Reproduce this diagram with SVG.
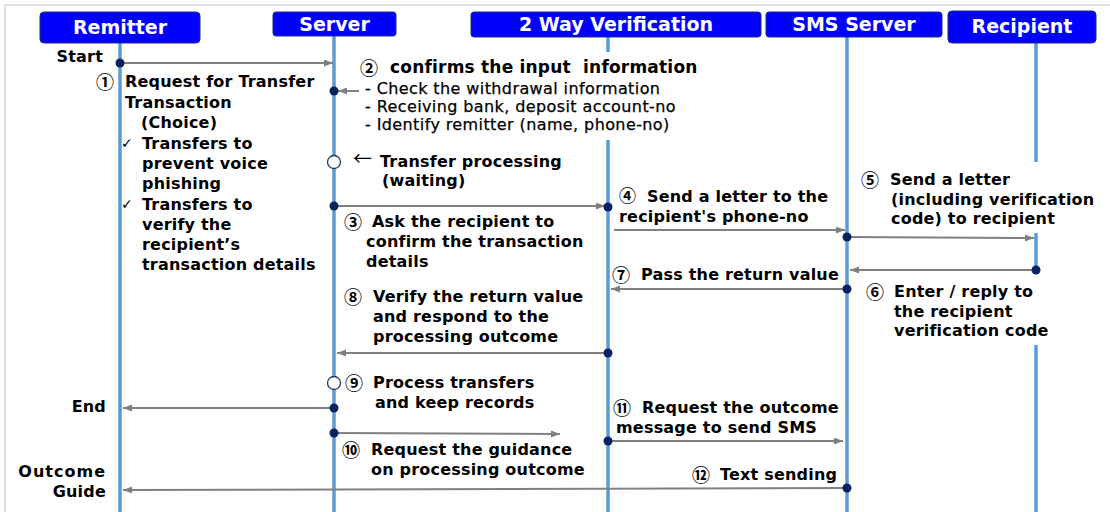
<svg xmlns="http://www.w3.org/2000/svg" width="1110" height="512" viewBox="0 0 1110 512">
<style>
.frame{stroke:#d6d6d6;stroke-width:1.5;fill:none}
.box{fill:#0000ff;stroke:#1c2a7a;stroke-width:1}
.hd{font-family:"DejaVu Sans",sans-serif;font-weight:bold;font-size:19px;fill:#fff;text-anchor:middle}
.life{stroke:#5b9bd5;stroke-width:3.5;fill:none}
.t{font-family:"DejaVu Sans","Noto Sans CJK KR",sans-serif;font-weight:bold;font-size:16px;fill:#000;letter-spacing:0.2px}
.r{font-weight:normal;letter-spacing:0.4px;stroke:#000;stroke-width:0.25}
.e{text-anchor:end}
.n{font-family:"Noto Sans CJK KR",sans-serif;font-size:18px;font-weight:bold;fill:#000}
.ck{font-family:"DejaVu Sans",sans-serif;font-size:14px;fill:#000}
.arr{stroke:#808080;stroke-width:2;fill:none;marker-end:url(#ah)}
.dot{fill:#0b2260}
.oc{fill:#fff;stroke:#1f3864;stroke-width:1.3}
</style>
<defs>
<marker id="ah" markerWidth="10" markerHeight="8" refX="9" refY="3.5" orient="auto" markerUnits="userSpaceOnUse">
<path d="M0,0 L9,3.5 L0,7 z" fill="#808080"/>
</marker>
</defs>
<rect width="1110" height="512" fill="#fff"/>
<path class="frame" d="M5,512 V5 H1110"/>

<g id="node-remitter">
<line class="life" x1="120" y1="43" x2="120" y2="512"/>
<rect class="box" x="40" y="12" width="160" height="31" rx="4"/>
<text class="hd" x="120" y="34">Remitter</text>
</g>
<g id="node-server">
<line class="life" x1="334" y1="36" x2="334" y2="512"/>
<rect class="box" x="273" y="12" width="123" height="24" rx="3"/>
<text class="hd" x="334.5" y="31">Server</text>
</g>
<g id="node-2way">
<line class="life" x1="608" y1="37" x2="608" y2="52"/>
<line class="life" x1="608" y1="140" x2="608" y2="512"/>
<rect class="box" x="471" y="12" width="290" height="25" rx="3"/>
<text class="hd" x="616" y="31">2 Way Verification</text>
</g>
<g id="node-sms">
<line class="life" x1="847" y1="37" x2="847" y2="512"/>
<rect class="box" x="766" y="12" width="176" height="25" rx="3"/>
<text class="hd" x="854" y="31">SMS Server</text>
</g>
<g id="node-recipient">
<line class="life" x1="1036" y1="43" x2="1036" y2="162"/>
<line class="life" x1="1036" y1="233" x2="1036" y2="272"/>
<line class="life" x1="1036" y1="345" x2="1036" y2="512"/>
<rect class="box" x="948" y="11" width="148" height="32" rx="4"/>
<text class="hd" x="1022" y="33">Recipient</text>
</g>

<g id="connectors">
<line class="arr" x1="120" y1="63" x2="333" y2="63"/>
<line class="arr" x1="359" y1="91" x2="338" y2="91"/>
<line class="arr" x1="334" y1="206" x2="605" y2="206"/>
<line class="arr" x1="614" y1="230" x2="845" y2="230"/>
<line class="arr" x1="847" y1="237" x2="1034" y2="238"/>
<line class="arr" x1="1036" y1="270" x2="850" y2="270"/>
<line class="arr" x1="847" y1="289" x2="611" y2="289"/>
<line class="arr" x1="608" y1="353" x2="337" y2="353"/>
<line class="arr" x1="334" y1="408" x2="123" y2="408"/>
<line class="arr" x1="334" y1="433" x2="560" y2="434"/>
<line class="arr" x1="608" y1="441" x2="843" y2="441"/>
<line class="arr" x1="847" y1="488" x2="123" y2="490"/>
<circle class="dot" cx="120" cy="63" r="4.5"/>
<circle class="dot" cx="334" cy="91" r="4.5"/>
<circle class="oc" cx="334" cy="162" r="6.5"/>
<circle class="dot" cx="334" cy="206" r="4.5"/>
<circle class="dot" cx="608" cy="207" r="4.5"/>
<circle class="dot" cx="847" cy="237" r="4.5"/>
<circle class="dot" cx="1036" cy="270" r="4.5"/>
<circle class="dot" cx="847" cy="289" r="4.5"/>
<circle class="dot" cx="608" cy="353" r="4.5"/>
<circle class="oc" cx="334" cy="383" r="6.5"/>
<circle class="dot" cx="334" cy="408" r="4.5"/>
<circle class="dot" cx="334" cy="433" r="4.5"/>
<circle class="dot" cx="608" cy="441" r="4.5"/>
<circle class="dot" cx="847" cy="488" r="4.5"/>
</g>

<g id="label-start"><text class="t e" x="103" y="62">Start</text></g>
<g id="label-1">
<text class="n" x="96" y="89">①</text>
<text class="t" x="125" y="87">Request for Transfer</text>
<text class="t" x="125" y="108">Transaction</text>
<text class="t" x="141" y="128">(Choice)</text>
<text class="ck" x="121" y="148">✓</text>
<text class="t" x="142" y="149">Transfers to</text>
<text class="t" x="142" y="169">prevent voice</text>
<text class="t" x="142" y="189">phishing</text>
<text class="ck" x="121" y="209">✓</text>
<text class="t" x="142" y="210">Transfers to</text>
<text class="t" x="142" y="230">verify the</text>
<text class="t" x="142" y="250">recipient’s</text>
<text class="t" x="142" y="270">transaction details</text>
</g>
<g id="label-2">
<text class="n" x="360" y="75">②</text>
<text class="t" x="390" y="73" style="font-size:17px" xml:space="preserve">confirms the input  information</text>
<text class="t r" x="365" y="94">- Check the withdrawal information</text>
<text class="t r" x="365" y="112">- Receiving bank, deposit account-no</text>
<text class="t r" x="365" y="130">- Identify remitter (name, phone-no)</text>
</g>
<g id="label-processing">
<text class="n" x="353" y="166" style="font-size:19px;font-weight:normal">←</text>
<text class="t" x="380" y="167">Transfer processing</text>
<text class="t" x="382" y="186">(waiting)</text>
</g>
<g id="label-3">
<text class="n" x="344" y="229">③</text>
<text class="t" x="372" y="227">Ask the recipient to</text>
<text class="t" x="366" y="247">confirm the transaction</text>
<text class="t" x="366" y="267">details</text>
</g>
<g id="label-4">
<text class="n" x="619" y="202" style="font-size:17px">④</text>
<text class="t" x="647" y="202">Send a letter to the</text>
<text class="t" x="619" y="222">recipient's phone-no</text>
</g>
<g id="label-5">
<text class="n" x="861" y="187">⑤</text>
<text class="t" x="890" y="185">Send a letter</text>
<text class="t" x="891" y="205">(including verification</text>
<text class="t" x="891" y="224">code) to recipient</text>
</g>
<g id="label-6">
<text class="n" x="866" y="299">⑥</text>
<text class="t" x="894" y="297">Enter / reply to</text>
<text class="t" x="894" y="317">the recipient</text>
<text class="t" x="894" y="336">verification code</text>
</g>
<g id="label-7">
<text class="n" x="612" y="282">⑦</text>
<text class="t" x="641" y="280">Pass the return value</text>
</g>
<g id="label-8">
<text class="n" x="344" y="304">⑧</text>
<text class="t" x="373" y="302">Verify the return value</text>
<text class="t" x="373" y="322">and respond to the</text>
<text class="t" x="373" y="342">processing outcome</text>
</g>
<g id="label-9">
<text class="n" x="345" y="390">⑨</text>
<text class="t" x="373" y="388">Process transfers</text>
<text class="t" x="375" y="408">and keep records</text>
</g>
<g id="label-end"><text class="t e" x="106" y="412">End</text></g>
<g id="label-10">
<text class="n" x="342" y="457">⑩</text>
<text class="t" x="371" y="455">Request the guidance</text>
<text class="t" x="371" y="475">on processing outcome</text>
</g>
<g id="label-11">
<text class="n" x="613" y="415">⑪</text>
<text class="t" x="642" y="413">Request the outcome</text>
<text class="t" x="616" y="433">message to send SMS</text>
</g>
<g id="label-12">
<text class="n" x="692" y="482">⑫</text>
<text class="t" x="720" y="480">Text sending</text>
</g>
<g id="label-outcome">
<text class="t e" x="106" y="477" style="letter-spacing:1px">Outcome</text>
<text class="t e" x="106" y="497">Guide</text>
</g>
</svg>
